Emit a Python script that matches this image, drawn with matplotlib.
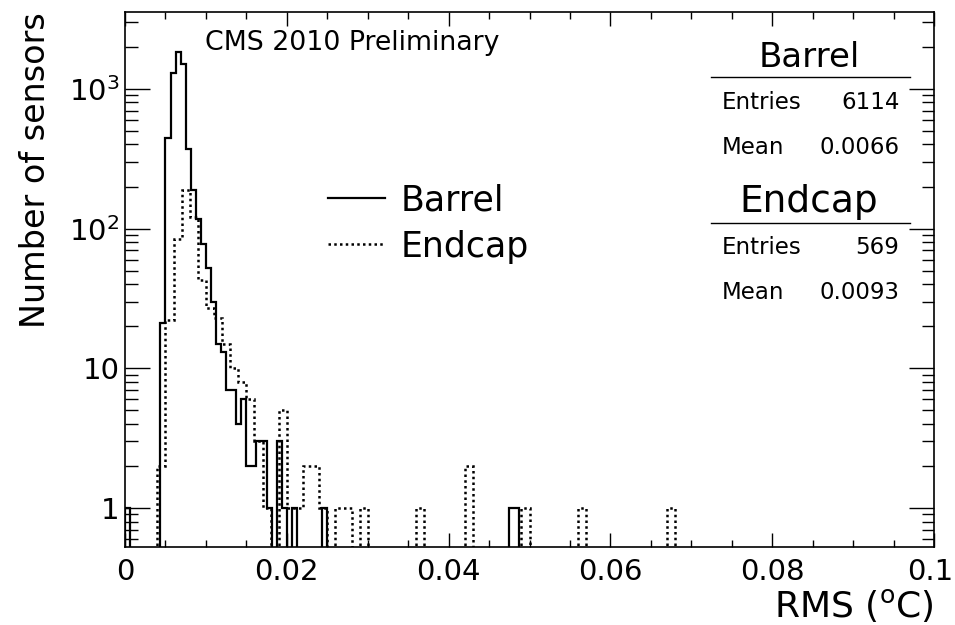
import numpy as np
import matplotlib
matplotlib.use('Agg')
import matplotlib.pyplot as plt
from matplotlib.lines import Line2D
from matplotlib.transforms import ScaledTranslation
from matplotlib.ticker import FixedLocator, FixedFormatter, MultipleLocator, LogLocator, NullFormatter

plt.rcParams['font.family'] = ['DejaVu Sans']
plt.rcParams['mathtext.fontset'] = 'custom'
plt.rcParams['mathtext.rm'] = 'DejaVu Sans'

# --- data ---
# barrel: 160 bins of 0.000625 between 0 and 0.1 (only non-empty bins listed)
barrel_width = 0.000625
barrel_bins = [0, 7, 8, 9, 10, 11, 12, 13, 14, 15, 16, 17, 18, 19, 20, 21,
               22, 23, 24, 25, 26, 27, 28, 30, 31, 33, 39, 76, 77]
barrel_counts = [1, 21, 442, 1295, 1838, 1500, 371, 189, 117, 78, 52, 30, 15, 13, 7, 7,
                 4, 6, 2, 2, 3, 3, 1, 3, 1, 1, 1, 1, 1]

# endcap: 100 bins of 0.001
endcap_width = 0.001
endcap_bins = [4, 5, 6, 7, 8, 9, 10, 11, 12, 13, 14, 15, 16, 17, 19, 20, 21,
               22, 23, 24, 26, 27, 29, 36, 42, 49, 56, 67]
endcap_counts = [2, 22, 84, 190, 122, 43, 27, 23, 15, 10, 8, 6, 3, 1, 5, 1, 1,
                 2, 2, 1, 1, 1, 1, 1, 2, 1, 1, 1]

series_names = ['Barrel', 'Endcap']
stat_entries = [6114, 569]
stat_means = ['0.0066', '0.0093']

xtick_values = [0, 0.02, 0.04, 0.06, 0.08, 0.1]
xtick_labels = ['0', '0.02', '0.04', '0.06', '0.08', '0.1']
ytick_values = [1, 10, 100, 1000]
ytick_labels = ['1', '10', '$10^{2}$', '$10^{3}$']

# --- histograms ---
def full_hist(nbins, bins, counts):
    h = np.zeros(nbins)
    h[bins] = counts
    return h

barrel = full_hist(160, barrel_bins, barrel_counts)
endcap = full_hist(100, endcap_bins, endcap_counts)
barrel_edges = np.arange(161) * barrel_width
endcap_edges = np.arange(101) * endcap_width

W, H = 955, 625
fig = plt.figure(figsize=(W / 100, H / 100), dpi=100)
ax = fig.add_axes([125 / W, 1 - 547 / H, (934 - 125) / W, (547 - 12) / H])

floor = 1e-3
ax.stairs(np.where(barrel > 0, barrel, floor), barrel_edges, baseline=floor,
          color='black', lw=1.6)
ax.stairs(np.where(endcap > 0, endcap, floor), endcap_edges, baseline=floor,
          color='black', lw=1.8, linestyle=(0, (1, 1.3)))

ax.set_yscale('log')
ax.set_xlim(0, 0.1)
ax.set_ylim(0.526, 3550)

ax.xaxis.set_major_locator(FixedLocator(xtick_values))
ax.xaxis.set_major_formatter(FixedFormatter(xtick_labels))
ax.xaxis.set_minor_locator(MultipleLocator(0.005))
ax.yaxis.set_major_locator(FixedLocator(ytick_values))
ax.yaxis.set_major_formatter(FixedFormatter(ytick_labels))
ax.yaxis.set_minor_locator(LogLocator(base=10, subs=np.arange(2, 10)))
ax.yaxis.set_minor_formatter(NullFormatter())

ax.tick_params(which='both', direction='in', top=True, right=True, width=1)
ax.tick_params(axis='x', which='major', length=10, pad=8, labelsize=21)
ax.tick_params(axis='x', which='minor', length=5)
ax.tick_params(axis='y', which='major', length=18, pad=4, labelsize=21)
ax.tick_params(axis='y', which='minor', length=9)
for s in ax.spines.values():
    s.set_linewidth(1.2)

# keep the last x label inside the canvas
fig.canvas.draw()
last = ax.get_xticklabels()[-1]
last.set_transform(last.get_transform() + ScaledTranslation(-4 / 100, 0, fig.dpi_scale_trans))

ax.set_xlabel('RMS ($^{\\mathrm{o}}$C)', fontsize=26, loc='right', labelpad=1)
ax.set_ylabel('Number of sensors', fontsize=24, loc='top', labelpad=12)

fig.text(205 / W, 1 - 50 / H, 'CMS 2010 Preliminary', fontsize=19.3, va='baseline')

handles = [Line2D([], [], color='black', lw=1.6),
           Line2D([], [], color='black', lw=1.8, linestyle=(0, (1, 1.3)))]
ax.legend(handles, series_names, loc='center left', frameon=False, fontsize=25,
          bbox_to_anchor=(328 / W, 1 - 223.5 / H), bbox_transform=fig.transFigure,
          borderpad=0, borderaxespad=0, handlelength=1.65, handletextpad=0.45,
          labelspacing=0.35)

# --- statistics boxes ---
def px(x, y):
    return x / W, 1 - y / H

title_sizes = [24.5, 27]
title_base = [66.7, 211.7]
rule_y = [76.7, 223.3]
entries_base = [109, 254.3]
mean_base = [154, 299.3]
for i in range(2):
    fig.text(*px(809, title_base[i]), series_names[i], fontsize=title_sizes[i],
             ha='center', va='baseline')
    fig.add_artist(Line2D([710.7 / W, 910 / W], [1 - rule_y[i] / H] * 2,
                          color='black', lw=1))
    fig.text(*px(721.7, entries_base[i]), 'Entries', fontsize=16.5, va='baseline')
    fig.text(*px(899.3, entries_base[i]), str(stat_entries[i]), fontsize=16.5,
             ha='right', va='baseline')
    fig.text(*px(721.7, mean_base[i]), 'Mean', fontsize=16.5, va='baseline')
    fig.text(*px(899.3, mean_base[i]), stat_means[i], fontsize=16.5,
             ha='right', va='baseline')

fig.savefig('out.png', dpi=100)
